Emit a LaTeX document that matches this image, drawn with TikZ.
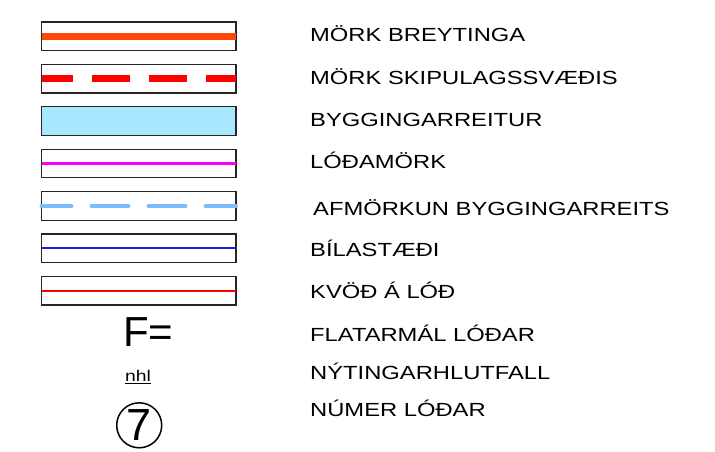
\documentclass[tikz,border=0pt]{standalone}
\usepackage{fontspec}
\setmainfont{Liberation Sans}
\newfontfamily\widesans[FakeStretch=1.25]{Liberation Sans}
\usetikzlibrary{positioning}
\definecolor{orangered}{RGB}{255,72,8}
\definecolor{reiturblue}{RGB}{168,232,255}
\definecolor{lodmagenta}{RGB}{255,0,255}
\definecolor{afmblue}{RGB}{125,190,250}
\definecolor{bilblue}{RGB}{30,30,230}

\begin{document}
\begin{tikzpicture}[x = 1pt, y = -1pt, node distance = 13.8pt,
  legbox/.style = {draw = black!85, line width = 1.3pt, minimum width = 194.5pt, minimum height = 28.6pt, inner sep = 0pt, outer sep = 0pt},
  legtext/.style = {anchor = base west, inner sep = 0pt, font = \widesans\fontsize{19}{22}\selectfont}]
  \useasboundingbox (0,0) rectangle (715,451);

  \node (breytinga) [legbox] at (138.75, 36.3) {};
  \node (skipulag) [legbox, below = of breytinga] {};
  \node (reitur) [legbox, fill = reiturblue, below = of skipulag] {};
  \node (lodamork) [legbox, below = of reitur] {};
  \node (afmorkun) [legbox, below = of lodamork] {};
  \node (bilastaedi) [legbox, below = of afmorkun] {};
  \node (kvod) [legbox, below = of bilastaedi] {};

  \draw [orangered, line width = 7pt] (breytinga.west) -- (breytinga.east);
  \draw [red, line width = 7pt, dash pattern = on 38pt off 19pt, dash phase = 7pt] (skipulag.west) -- (skipulag.east);
  \draw [lodmagenta, line width = 2.2pt] (lodamork.west) -- (lodamork.east);
  \draw [afmblue, line width = 4pt, line cap = round, dash pattern = on 37pt off 20pt, dash phase = 7pt] (afmorkun.west) -- (afmorkun.east);
  \draw [bilblue, line width = 1.8pt] (bilastaedi.west) -- (bilastaedi.east);
  \draw [red, line width = 1.8pt] (kvod.west) -- (kvod.east);

  \node (flatarmal) [anchor = base west, inner sep = 0pt, font = \fontsize{42}{42}\selectfont] at (123, 346.7) {F=};
  \node (nhl) [anchor = base west, inner sep = 0pt, font = \widesans\fontsize{15.5}{16}\selectfont] at (124.8, 381.7) {\underline{nhl}};
  \node (numer) [circle, draw, line width = 1.5pt, minimum size = 45pt, inner sep = 0pt, font = \fontsize{45}{45}\selectfont] at (139.2, 425.3) {7};

  \node (t1) [legtext] at (310, 41) {MÖRK BREYTINGA};
  \node (t2) [legtext] at (310, 84) {MÖRK SKIPULAGSSVÆÐIS};
  \node (t3) [legtext] at (310, 126.5) {BYGGINGARREITUR};
  \node (t4) [legtext] at (310, 168.5) {LÓÐAMÖRK};
  \node (t5) [legtext] at (313, 215) {AFMÖRKUN BYGGINGARREITS};
  \node (t6) [legtext] at (310, 256.5) {BÍLASTÆÐI};
  \node (t7) [legtext] at (310, 298.5) {KVÖÐ Á LÓÐ};
  \node (t8) [legtext] at (310, 341.5) {FLATARMÁL LÓÐAR};
  \node (t9) [legtext] at (310, 379.5) {NÝTINGARHLUTFALL};
  \node (t10) [legtext] at (310, 416.5) {NÚMER LÓÐAR};
\end{tikzpicture}
\end{document}
